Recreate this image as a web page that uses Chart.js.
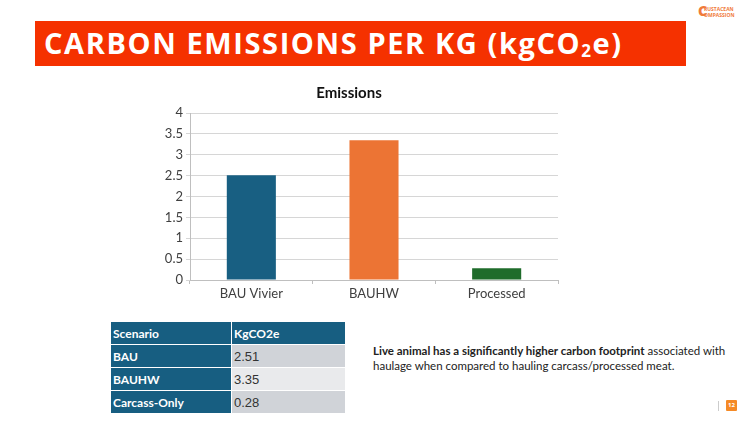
<!DOCTYPE html>
<html>
<head>
<meta charset="utf-8">
<script src="https://cdn.jsdelivr.net/npm/chart.js@4.4.1/dist/chart.umd.min.js"></script>
<style>
html, body { margin: 0; padding: 0; background: #fff; }
#slide { position: relative; width: 752px; height: 423px; overflow: hidden; font-family: "Open Sans", sans-serif; }
#banner { position: absolute; left: 35px; top: 21px; width: 651px; height: 45px; background: #f53100; }
#banner span { position: absolute; left: 9px; top: 2px; color: #fff; font-weight: 700; font-size: 29px; white-space: nowrap; letter-spacing: 1.6px; }
#banner sub { font-size: 17px; vertical-align: -3px; }
#logo { position: absolute; left: 704px; top: 6px; color: #f07a3a; font-size: 5px; line-height: 6px; font-weight: 700; }
#logo b { position: absolute; left: -6px; top: -2px; font-size: 14px; line-height: 14px; }
#chartbox { position: absolute; left: 140px; top: 80px; width: 440px; height: 230px; }
table { position: absolute; left: 110px; top: 321px; width: 236px; border-collapse: collapse; font-size: 12px; }
td { height: 22px; padding: 0 0 0 2px; border: 1.5px solid #fff; }
td.h { background: #175e81; color: #fff; font-weight: 700; font-family: "Lato", sans-serif; font-size: 12px; }
td.v { color: #333; font-family: "Liberation Sans", Arial, sans-serif; font-size: 13px; }
tr.odd td.v { background: #d0d3d8; }
tr.even td.v { background: #e9eaec; }
#note { position: absolute; left: 373px; top: 343px; width: 380px; font-family: "Lato", sans-serif; font-size: 11.5px; line-height: 15px; color: #222; }
#pnum { position: absolute; left: 726px; top: 400px; width: 11px; height: 11px; background: #f58a26; color: #fff; font-size: 6px; font-weight: 700; text-align: center; line-height: 11px; border-radius: 1px; }
#pbar { position: absolute; left: 718px; top: 401px; width: 1px; height: 10px; background: #ccc; }
</style>
</head>
<body>
<div id="slide">
  <div id="banner"><span>CARBON EMISSIONS PER KG (kgCO<sub>2</sub>e)</span></div>
  <div id="logo"><b>C</b>RUSTACEAN<br>OMPASSION</div>
  <div id="chartbox"><canvas id="emissions"></canvas></div>
  <table id="tbl"></table>
  <div id="note"><b>Live animal has a significantly higher carbon footprint</b> associated with haulage when compared to hauling carcass/processed meat.</div>
  <div id="pbar"></div>
  <div id="pnum">12</div>
</div>
<script>
var categories = ["BAU Vivier", "BAUHW", "Processed"];
var emissions = [2.51, 3.35, 0.28];
var barColors = ["#185f82", "#ec7434", "#1f6c2b"];
var tableScenarios = ["BAU", "BAUHW", "Carcass-Only"];
var tableValues = ["2.51", "3.35", "0.28"];

function buildtable(){
    var html = '<tr><td class="h" style="width:118px">Scenario</td><td class="h">KgCO2e</td></tr>';
    for (var i = 0; i < tableScenarios.length; i++){
        html += '<tr class="' + (i % 2 == 0 ? 'odd' : 'even') + '"><td class="h">' + tableScenarios[i] + '</td><td class="v">' + tableValues[i] + '</td></tr>';
    }
    document.getElementById("tbl").innerHTML = html;
}

function emissionsgraph(){
    var ctx = document.getElementById("emissions").getContext('2d');
    var myBarChart = new Chart(ctx, {
        type: 'bar',
        data: {
            labels: categories,
            datasets: [
                {
                    label: "Emissions",
                    backgroundColor: barColors,
                    borderWidth: 0,
                    data: emissions,
                    categoryPercentage: 1,
                    barPercentage: 0.4
                }
            ]
        },
        options: {
            responsive: true,
            maintainAspectRatio: false,
            animation: false,
            layout: { padding: { left: 0, right: 22, top: 0, bottom: 0 } },
            plugins: {
                legend: { display: false },
                tooltip: { enabled: false },
                title: {
                    display: true,
                    text: "Emissions",
                    color: "#111",
                    font: { family: "Lato", size: 15, weight: "bold" },
                    padding: { top: 4, bottom: 11 }
                }
            },
            scales: {
                x: {
                    grid: { display: true, drawOnChartArea: false, drawTicks: true, tickLength: 4, color: "#bfbfbf", offset: true },
                    border: { display: true, color: "#bfbfbf" },
                    ticks: { color: "#404040", font: { family: "Lato", size: 13 }, padding: 2 },
                    afterFit: function(scale){ scale.height = 30; }
                },
                y: {
                    min: 0,
                    max: 4,
                    ticks: {
                        stepSize: 0.5,
                        color: "#404040",
                        font: { family: "Lato", size: 13 },
                        padding: 3,
                        callback: function(value){ return String(value); }
                    },
                    grid: { color: "#d6d6d6", tickLength: 4 },
                    border: { display: true, color: "#bfbfbf" },
                    afterFit: function(scale){ scale.width = 50; }
                }
            }
        }
    });
}

buildtable();
emissionsgraph();
</script>
</body>
</html>
